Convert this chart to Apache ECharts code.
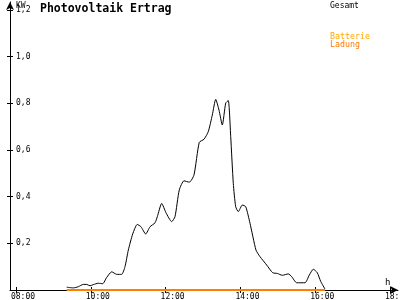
<!DOCTYPE html>
<html>
<head>
<meta charset="utf-8">
<script src="https://cdn.jsdelivr.net/npm/echarts@6/dist/echarts.min.js"></script>
<style>html,body{margin:0;padding:0;background:#fff}#c{width:400px;height:300px}</style>
</head>
<body>
<div id="c"></div>
<script>
// time in decimal hours
var times = [9.356,9.532,9.666,9.799,9.890,9.979,10.067,10.200,10.318,10.425,10.559,10.693,10.826,10.914,11.003,11.120,11.243,11.342,11.468,11.583,11.717,11.778,11.896,12.011,12.163,12.251,12.366,12.492,12.634,12.759,12.901,13.027,13.142,13.249,13.340,13.428,13.516,13.607,13.676,13.741,13.810,13.874,13.944,14.051,14.142,14.257,14.417,14.524,14.703,14.864,14.987,15.120,15.281,15.372,15.505,15.727,15.842,15.949,16.056,16.147,16.262];
var gesamt = [0.012,0.009,0.014,0.024,0.024,0.018,0.023,0.029,0.027,0.054,0.078,0.067,0.067,0.100,0.171,0.240,0.281,0.271,0.240,0.271,0.288,0.314,0.371,0.331,0.293,0.314,0.429,0.468,0.462,0.493,0.633,0.646,0.679,0.750,0.817,0.771,0.707,0.801,0.812,0.657,0.457,0.357,0.336,0.364,0.357,0.286,0.171,0.143,0.107,0.074,0.071,0.063,0.069,0.057,0.031,0.031,0.064,0.089,0.074,0.037,0.004];
var battTimes = [9.356, 16.262];
var battValues = [0, 0];
var xTicks = [8,10,12,14,16,18];
var yTicks = [0.2,0.4,0.6,0.8,1.0,1.2];
var title = 'Photovoltaik Ertrag';
var legendGesamt = 'Gesamt';
var legendBatt = ['Batterie','Ladung'];

var XMIN = 7.8396, XMAX = 18.2139, YMAX = 1.2343;
var LSHIFT = 0.134;
var FONT = 'DejaVu Sans Mono';
function pad(n){return (n<10?'0':'')+n;}

var chart = echarts.init(document.getElementById('c'), null, {renderer:'canvas'});
chart.setOption({
  animation:false,
  backgroundColor:'#fff',
  title:[
    {text:title,left:40,top:3,padding:0,textStyle:{fontFamily:FONT,fontWeight:'bold',fontSize:11.5,color:'#000'}},
    {text:legendGesamt,left:330,top:2,padding:0,textStyle:{fontFamily:FONT,fontWeight:'normal',fontSize:8,color:'#000'}},
    {text:legendBatt[0],left:330,top:33,padding:0,textStyle:{fontFamily:FONT,fontWeight:'normal',fontSize:8.3,color:'#FFA800'}},
    {text:legendBatt[1],left:330,top:41,padding:0,textStyle:{fontFamily:FONT,fontWeight:'normal',fontSize:8.3,color:'#FF7A00'}}
  ],
  grid:{left:10,right:2,top:2,bottom:10,containLabel:false,outerBoundsMode:'none'},
  xAxis:[
    {type:'value',min:XMIN,max:XMAX,position:'bottom',
     axisLine:{show:true,onZero:false,symbol:['none','arrow'],symbolSize:[6,8],lineStyle:{color:'#000',width:1}},
     axisTick:{show:false},axisLabel:{show:false},splitLine:{show:false},
     name:'h',nameLocation:'end',nameGap:-13,
     nameTextStyle:{fontFamily:FONT,fontSize:9,color:'#000',align:'left',verticalAlign:'bottom',padding:[0,0,3,0]}},
    {type:'value',min:XMIN,max:XMAX,position:'bottom',offset:-3,
     axisLine:{show:false},axisLabel:{show:false},splitLine:{show:false},
     axisTick:{show:true,length:6,customValues:xTicks,lineStyle:{color:'#000',width:1}}},
    {type:'value',min:XMIN+LSHIFT,max:XMAX+LSHIFT,position:'bottom',
     axisLine:{show:false},axisTick:{show:false},splitLine:{show:false},
     axisLabel:{show:true,customValues:xTicks,align:'left',margin:3,fontFamily:FONT,fontSize:8,color:'#000',
       hideOverlap:false,showMaxLabel:true,
       formatter:function(v){return pad(Math.round(v))+':00';}}}
  ],
  yAxis:[
    {type:'value',min:0,max:YMAX,position:'left',
     axisLine:{show:true,onZero:false,symbol:['none','arrow'],symbolSize:[6,8],lineStyle:{color:'#000',width:1}},
     axisTick:{show:false},axisLabel:{show:false},splitLine:{show:false},
     name:'KW',nameLocation:'end',nameGap:-8,
     nameTextStyle:{fontFamily:FONT,fontSize:8,color:'#000',align:'left',verticalAlign:'bottom',padding:[0,0,0,6]}},
    {type:'value',min:0,max:YMAX,position:'left',offset:-3,
     axisLine:{show:false},splitLine:{show:false},
     axisTick:{show:true,length:6,customValues:yTicks,lineStyle:{color:'#000',width:1}},
     axisLabel:{show:true,inside:true,margin:3,customValues:yTicks,fontFamily:FONT,fontSize:8,color:'#000',
       formatter:function(v){return v.toFixed(1).replace('.',',');}}}
  ],
  series:[
    {name:'Gesamt',type:'line',xAxisIndex:0,yAxisIndex:0,showSymbol:false,smooth:0.2,
     lineStyle:{color:'#000',width:1},
     data:times.map(function(t,i){return [t,gesamt[i]];}),z:3},
    {name:'Batterie Ladung',type:'line',xAxisIndex:0,yAxisIndex:0,showSymbol:false,
     lineStyle:{color:'#FF8000',width:2},
     data:battTimes.map(function(t,i){return [t,battValues[i]];}),z:4}
  ]
});
</script>
</body>
</html>
